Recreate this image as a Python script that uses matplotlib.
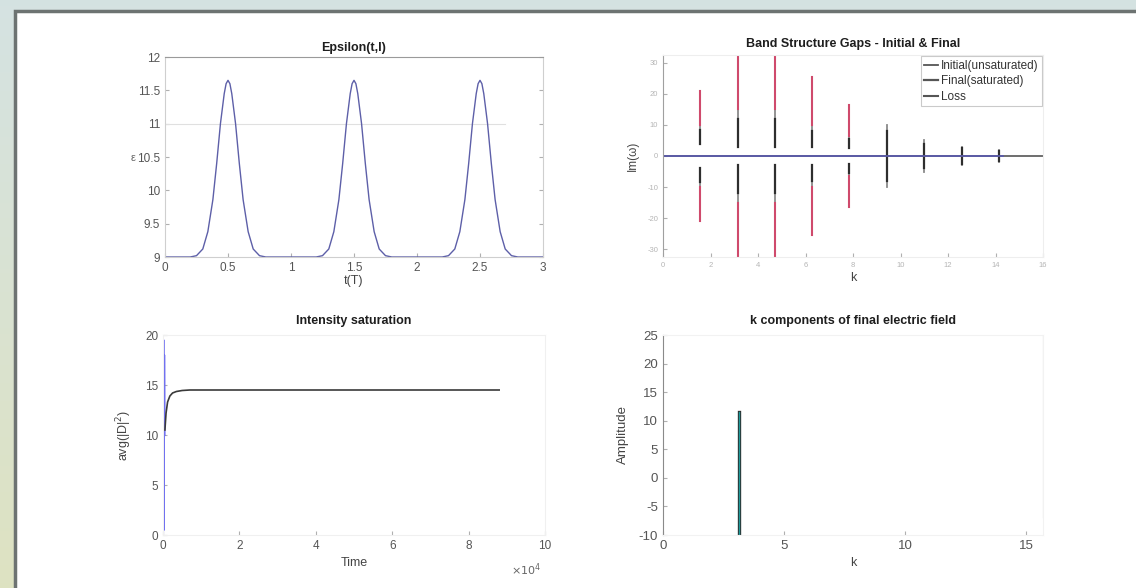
import numpy as np
import matplotlib.pyplot as plt
from matplotlib.patches import Rectangle

plt.rcParams['font.family'] = ['Liberation Sans', 'DejaVu Sans']
plt.rcParams['axes.unicode_minus'] = False

# ---- 数据 ----
# Epsilon(t,I)
t_eps = [0, 0.2, 0.25, 0.3, 0.34, 0.38, 0.41, 0.44, 0.47, 0.485, 0.5, 0.515, 0.53, 0.56, 0.59, 0.62, 0.66, 0.7, 0.75, 0.8,
         1.2, 1.25, 1.3, 1.34, 1.38, 1.41, 1.44, 1.47, 1.485, 1.5, 1.515, 1.53, 1.56, 1.59, 1.62, 1.66, 1.7, 1.75, 1.8,
         2.2, 2.25, 2.3, 2.34, 2.38, 2.41, 2.44, 2.47, 2.485, 2.5, 2.515, 2.53, 2.56, 2.59, 2.62, 2.66, 2.7, 2.75, 2.8, 3.0]
eps = [9.0, 9.0, 9.02, 9.12, 9.38, 9.86, 10.4, 11.0, 11.45, 11.6, 11.65, 11.6, 11.45, 11.0, 10.4, 9.86, 9.38, 9.12, 9.02, 9.0,
       9.0, 9.02, 9.12, 9.38, 9.86, 10.4, 11.0, 11.45, 11.6, 11.65, 11.6, 11.45, 11.0, 10.4, 9.86, 9.38, 9.12, 9.02, 9.0,
       9.0, 9.02, 9.12, 9.38, 9.86, 10.4, 11.0, 11.45, 11.6, 11.65, 11.6, 11.45, 11.0, 10.4, 9.86, 9.38, 9.12, 9.02, 9.0, 9.0]

# Band structure gaps
band_k = [1.57, 3.14, 4.71, 6.28, 7.85, 9.42, 11.0, 12.57, 14.14]
initial_lo = [4, 3, 3, 3, 2.5, 0.5, 0.5, 0.5, 0.5]
initial_hi = [10, 15, 15, 10, 6.5, 10, 5, 3, 2]
final_hi = [8.5, 12, 12, 8, 5.5, 8, 4, 2.5, 1.5]
loss_hi = [21, 33, 33, 25.5, 16.5, 0, 0, 0, 0]

# Intensity saturation
time_fast = [0, 100, 200, 300, 400]
inten_fast = [0.2, 19.5, 0.5, 18, 10]
time_slow = [500, 800, 1200, 1800, 2500, 3500, 5000, 7000, 10000, 20000, 50000, 88000]
inten_slow = [10.5, 12.2, 13.3, 13.9, 14.2, 14.35, 14.45, 14.5, 14.5, 14.5, 14.5, 14.5]

# k components
comp_k = [3.14, 15.7]
comp_lo = [-10, -6.8]
comp_hi = [11.6, 25]

# ---- 画布 ----
W, H = 1136, 588
fig = plt.figure(figsize=(W / 100, H / 100), dpi=100)

# 背景渐变
bg = fig.add_axes([0, 0, 1, 1], zorder=-10)
grad = np.linspace(0, 1, 256).reshape(-1, 1)
top_c = np.array([0.835, 0.890, 0.886])
bot_c = np.array([0.870, 0.890, 0.760])
img = top_c[None, None, :] * (1 - grad[:, :, None]) + bot_c[None, None, :] * grad[:, :, None]
bg.imshow(img, aspect='auto', extent=[0, 1, 0, 1])
bg.add_patch(Rectangle((15 / W, -0.05), 1.2, 1 - 11 / H + 0.05, facecolor='white',
                       edgecolor='#6d7372', lw=2.5))
bg.set_xlim(0, 1)
bg.set_ylim(0, 1)
bg.axis('off')


def px_axes(x0, x1, y0, y1):
    return fig.add_axes([x0 / W, 1 - y1 / H, (x1 - x0) / W, (y1 - y0) / H])


def style(ax, spine_col='#cfcfcf'):
    ax.set_facecolor('none')
    for s in ax.spines.values():
        s.set_color(spine_col)
        s.set_linewidth(0.8)
    ax.tick_params(direction='in', length=3, colors='#b0b0b0', labelcolor='#555555', labelsize=8.5,
                   top=False, right=True)


title_kw = dict(fontsize=9, fontweight='bold', color='#1e1e1e')

# 左上：Epsilon
ax1 = px_axes(165, 543, 57, 257)
style(ax1)
ax1.spines['top'].set_color('#9a9a9a')
ax1.axhline(11, color='#e0e0e0', lw=0.8, xmax=0.9)
ax1.plot(t_eps, eps, color='#5d5fa8', lw=1.0)
ax1.set_xlim(0, 3)
ax1.set_ylim(9, 12)
ax1.set_xticks(np.arange(0, 3.01, 0.5))
ax1.set_xticklabels(['0', '0.5', '1', '1.5', '2', '2.5', '3'])
ax1.set_yticks(np.arange(9, 12.01, 0.5))
ax1.set_yticklabels(['9', '9.5', '10', '10.5', '11', '11.5', '12'])
ax1.set_title('Epsilon(t,I)', pad=4, **title_kw)
ax1.set_xlabel('t(T)', fontsize=9, color='#444444', labelpad=1)
ax1.set_ylabel('ε', rotation=0, fontsize=8, color='#666666')
ax1.yaxis.set_label_coords(-0.085, 0.47)

# 右上：Band structure
ax2 = px_axes(663, 1043, 55, 257)
style(ax2, spine_col='#eeeeee')
ax2.spines['left'].set_color('#a0a0a0')
ax2.plot([0, 16], [0, 0], color='#555555', lw=1.2)
ax2.plot([0, 14.3], [0, 0], color='#5858b0', lw=1.2)
for i, k in enumerate(band_k):
    lbl = (i == 0)
    ax2.plot([k, k], [initial_lo[i], initial_hi[i]], color='#8a8a8a', lw=1.3,
             label='Initial(unsaturated)' if lbl else None)
    ax2.plot([k, k], [-initial_lo[i], -initial_hi[i]], color='#8a8a8a', lw=1.3)
    ax2.plot([k, k], [initial_lo[i], final_hi[i]], color='#2e2e2e', lw=1.6,
             label='Final(saturated)' if lbl else None)
    ax2.plot([k, k], [-initial_lo[i], -final_hi[i]], color='#2e2e2e', lw=1.6)
    if loss_hi[i] > 0:
        ax2.plot([k, k], [initial_hi[i], loss_hi[i]], color='#cf4a6c', lw=1.5,
                 label='Loss' if lbl else None)
        ax2.plot([k, k], [-initial_hi[i], -loss_hi[i]], color='#cf4a6c', lw=1.5)
ax2.set_xlim(0, 16)
ax2.set_ylim(-32.5, 32.5)
ax2.set_xticks(np.arange(0, 16.1, 2))
ax2.set_yticks(np.arange(-30, 31, 10))
ax2.tick_params(labelsize=5.5, labelcolor='#b5b5b5', right=False)
ax2.set_title('Band Structure Gaps - Initial & Final', pad=6, **title_kw)
ax2.set_xlabel('k', fontsize=9, color='#444444', labelpad=2)
ax2.set_ylabel('Im(ω)', fontsize=8.5, color='#444444')
ax2.yaxis.set_label_coords(-0.063, 0.5)
leg = ax2.legend(loc='upper right', fontsize=8.5, frameon=True, handlelength=1.2, handletextpad=0.2,
                 borderaxespad=0.1, labelspacing=0.3, fancybox=False, borderpad=0.3)
leg.get_frame().set_edgecolor('#bdbdbd')
leg.get_frame().set_linewidth(0.8)
for h in leg.legend_handles:
    h.set_color('#555555')
for txt in leg.get_texts():
    txt.set_color('#333333')

# 左下：Intensity saturation
ax3 = px_axes(163, 545, 335, 535)
style(ax3, spine_col='#f0f0f0')
ax3.plot(np.array(time_fast) / 1e4, inten_fast, color='#6a6af0', lw=1.5)
ax3.plot(np.array(time_slow) / 1e4, inten_slow, color='#3a3a3a', lw=1.2)
ax3.set_xlim(0, 10)
ax3.set_ylim(0, 20)
ax3.set_xticks(np.arange(0, 10.1, 2))
ax3.set_yticks(np.arange(0, 20.1, 5))
ax3.tick_params(right=False)
ax3.set_title('Intensity saturation', pad=8, **title_kw)
ax3.set_xlabel('Time', fontsize=9, color='#444444', labelpad=4)
ax3.set_ylabel('avg(|D|$^2$)', fontsize=9, color='#444444')
ax3.yaxis.set_label_coords(-0.075, 0.5)
ax3.text(0.95, -0.175, r'$\times10^4$', transform=ax3.transAxes, fontsize=8, color='#666666',
         ha='center', va='center')

# 右下：k components
ax4 = px_axes(663, 1043, 335, 535)
style(ax4, spine_col='#f2f2f2')
ax4.spines['left'].set_color('#8a8a8a')
ax4.plot([comp_k[0], comp_k[0]], [comp_lo[0], comp_hi[0]], color='#2b2b2b', lw=2.4)
ax4.plot([comp_k[0], comp_k[0]], [comp_lo[0], comp_hi[0]], color='#1f9a9a', lw=1.0)
ax4.plot([comp_k[1], comp_k[1]], [comp_lo[1], comp_hi[1]], color='#c8c8c8', lw=0.8)
ax4.set_xlim(0, 15.7)
ax4.set_ylim(-10, 25)
ax4.set_xticks([0, 5, 10, 15])
ax4.set_yticks(np.arange(-10, 25.1, 5))
ax4.tick_params(right=False, labelsize=9.5)
ax4.set_title('k components of final electric field', pad=8, **title_kw)
ax4.set_xlabel('k', fontsize=9, color='#444444', labelpad=4)
ax4.set_ylabel('Amplitude', fontsize=9.5, color='#444444')
ax4.yaxis.set_label_coords(-0.09, 0.5)

fig.savefig('out.png', dpi=100)
